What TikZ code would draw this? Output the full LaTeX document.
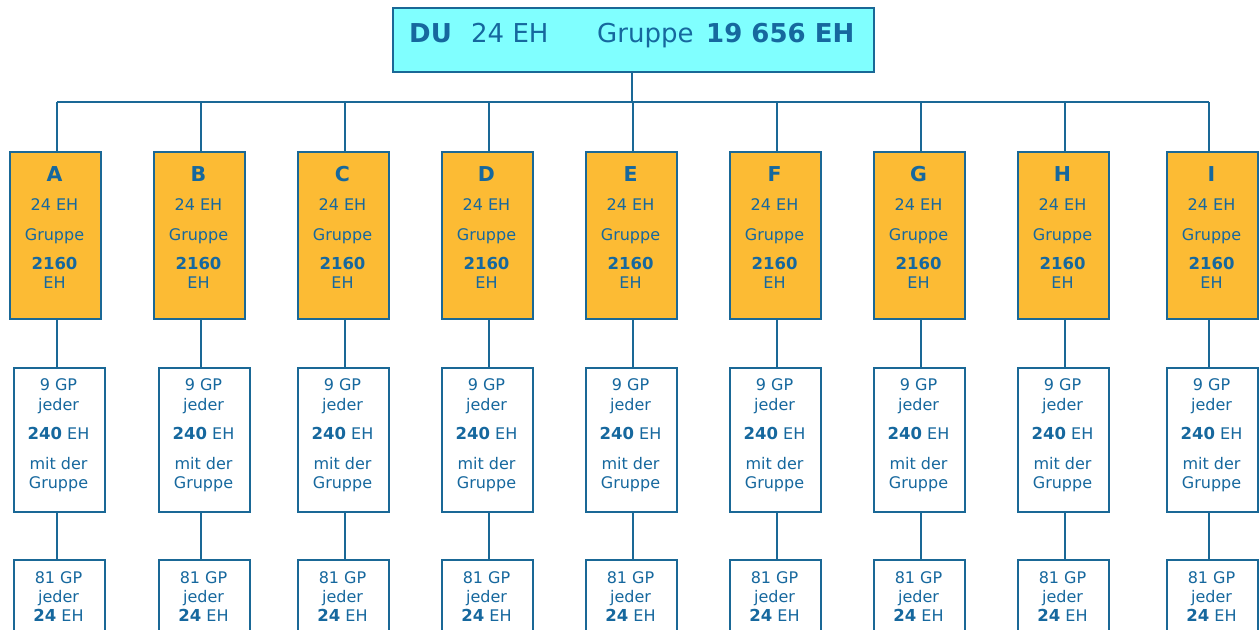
\documentclass[tikz,border=0pt]{standalone}
\usepackage{fontspec}
\setmainfont{DejaVu Sans}
\definecolor{ln}{RGB}{26,104,150}
\definecolor{tx}{RGB}{22,104,158}
\definecolor{org}{RGB}{252,187,52}
\definecolor{cy}{RGB}{128,255,255}
\tikzset{
  box/.style={draw=ln, line width=1.6pt, minimum width=91pt, anchor=north west, inner sep=0pt},
  obox/.style={box, fill=org, minimum height=167pt},
  wbox/.style={box, fill=white, minimum height=144pt},
  tbox/.style={box, fill=white, minimum height=120pt},
  topbox/.style={box, fill=cy, minimum width=481pt, minimum height=64pt},
  conn/.style={draw=ln, line width=1.6pt},
  txt/.style={text=tx, anchor=base, inner sep=0pt, font=\fontsize{16}{19}\selectfont},
  txtb/.style={txt, font=\fontsize{16.5}{19}\selectfont\bfseries},
  txtl/.style={txt, font=\fontsize{20.5}{24}\selectfont\bfseries},
  txtt/.style={txt, anchor=base west, font=\fontsize{26}{30}\selectfont},
}
\begin{document}
\begin{tikzpicture}[x=1pt,y=-1pt]
\useasboundingbox (0,0) rectangle (1260,629);
\clip (0,0) rectangle (1260,629);
% top box
\node[topbox] (top) at (392,7) {};
\node[txtt, font=\fontsize{26}{30}\selectfont\bfseries] (tdu) at (409,42) {DU};
\node[txtt] (teh) at (471,42) {24 EH};
\node[txtt] (tgr) at (597,42) {Gruppe};
\node[txtt, font=\fontsize{26}{30}\selectfont\bfseries] (tsum) at (706,42) {19 656 EH};
% bus
\coordinate (bus) at (632,102);
\coordinate (bl) at (57,102);
\coordinate (br) at (1209,102);
\draw[conn] (top.south -| bus) -- (bus);
\draw[conn] (bl) -- (br);
\foreach \n/\ol/\wl/\s in {A/9/13/57, B/153/158/201, C/297/297/345, D/441/441/489, E/585/585/633, F/729/729/777, G/873/873/921, H/1017/1017/1065, I/1166/1166/1209}{
  \coordinate (s\n) at (\s,102);
  \node[obox] (o\n) at (\ol,151) {};
  \node[wbox] (w\n) at (\wl,367) {};
  \node[tbox] (t\n) at (\wl,559) {};
  \draw[conn] (s\n) -- (s\n |- o\n.north);
  \draw[conn] (s\n |- o\n.south) -- (s\n |- w\n.north);
  \draw[conn] (s\n |- w\n.south) -- (s\n |- t\n.north);
  % orange texts
  \pgfmathsetmacro{\oc}{\ol+45.5}
  \pgfmathsetmacro{\wc}{\wl+45.5}
  \node[txtl] (oL\n) at (\oc,181.5) {\n};
  \node[txt] (oE\n) at (\oc,210.5) {24 EH};
  \node[txt] (oG\n) at (\oc,240) {Gruppe};
  \node[txtb] (oN\n) at (\oc,269) {2160};
  \node[txt] (oH\n) at (\oc,288) {EH};
  % white texts
  \node[txt] (w1\n) at (\wc,390.5) {9 GP};
  \node[txt] (w2\n) at (\wc,410) {jeder};
  \node[txt] (w3\n) at (\wc,439) {{\fontsize{16.5}{19}\selectfont\bfseries 240} EH};
  \node[txt] (w4\n) at (\wc,469) {mit der};
  \node[txt] (w5\n) at (\wc,488) {Gruppe};
  % third row texts
  \node[txt] (t1\n) at (\wc,583) {81 GP};
  \node[txt] (t2\n) at (\wc,602) {jeder};
  \node[txt] (t3\n) at (\wc,621.5) {{\fontsize{16.5}{19}\selectfont\bfseries 24} EH};
}
\end{tikzpicture}
\end{document}
